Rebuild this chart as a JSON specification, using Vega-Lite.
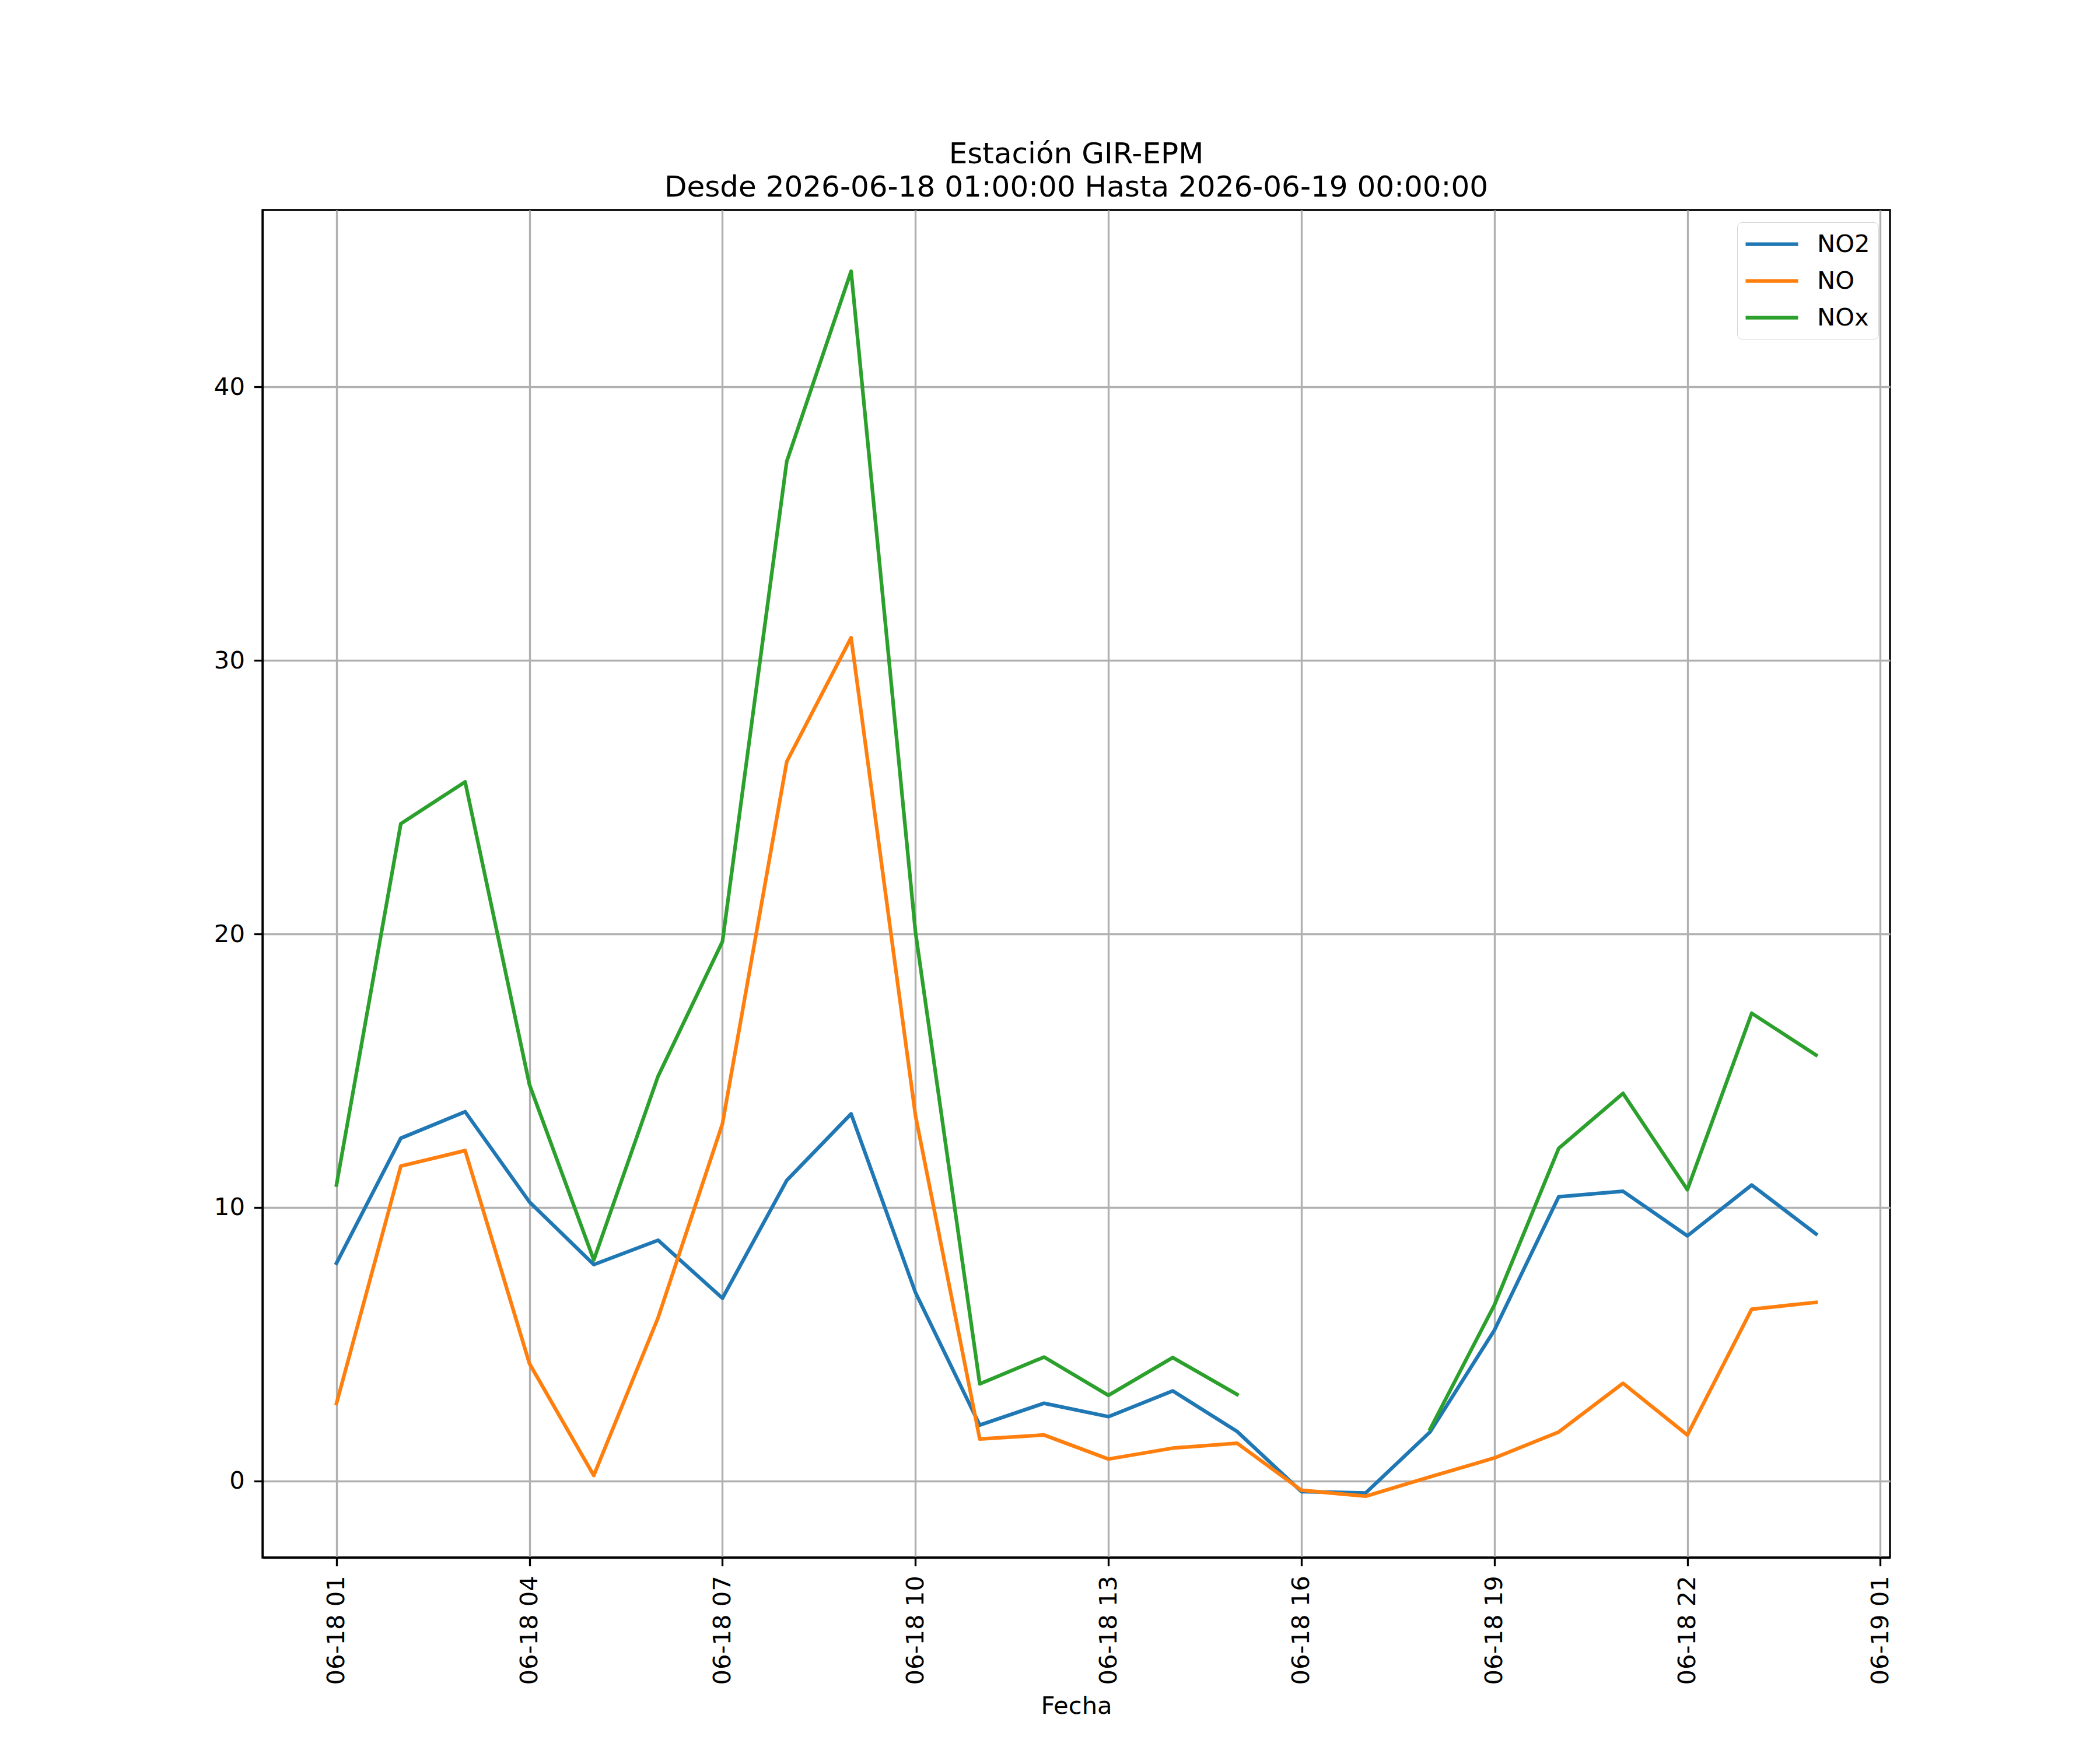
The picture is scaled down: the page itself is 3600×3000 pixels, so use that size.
{
  "$schema": "https://vega.github.io/schema/vega-lite/v6.json",
  "autosize": {"type": "none"},
  "padding": {"left": 450, "top": 360, "right": 360, "bottom": 330},
  "width": 2790,
  "height": 2310,
  "background": "white",
  "title": {
    "text": ["Estación GIR-EPM", "Desde 2026-06-18 01:00:00 Hasta 2026-06-19 00:00:00"],
    "font": "DejaVu Sans",
    "fontSize": 50,
    "fontWeight": "normal",
    "color": "black",
    "anchor": "middle",
    "lineHeight": 57,
    "baseline": "bottom",
    "offset": -37
  },
  "config": {
    "font": "DejaVu Sans",
    "view": {"stroke": "black", "strokeWidth": 3.33},
    "axis": {
      "domainColor": "black",
      "domainWidth": 3.33,
      "tickColor": "black",
      "tickWidth": 3.33,
      "tickSize": 14.6,
      "labelFont": "DejaVu Sans",
      "labelFontSize": 41.7,
      "labelColor": "black",
      "labelPadding": 16,
      "labelLimit": 0,
      "gridColor": "#b0b0b0",
      "gridWidth": 3.33,
      "gridOpacity": 1,
      "titleFont": "DejaVu Sans",
      "titleFontSize": 41.7,
      "titleFontWeight": "normal",
      "titleColor": "black"
    }
  },
  "data": {
    "values": [
      {"fecha": "2026-06-18T01:00:00Z", "contaminante": "NO2", "valor": 7.96},
      {"fecha": "2026-06-18T02:00:00Z", "contaminante": "NO2", "valor": 12.53},
      {"fecha": "2026-06-18T03:00:00Z", "contaminante": "NO2", "valor": 13.50},
      {"fecha": "2026-06-18T04:00:00Z", "contaminante": "NO2", "valor": 10.20},
      {"fecha": "2026-06-18T05:00:00Z", "contaminante": "NO2", "valor": 7.91},
      {"fecha": "2026-06-18T06:00:00Z", "contaminante": "NO2", "valor": 8.80},
      {"fecha": "2026-06-18T07:00:00Z", "contaminante": "NO2", "valor": 6.68},
      {"fecha": "2026-06-18T08:00:00Z", "contaminante": "NO2", "valor": 10.99},
      {"fecha": "2026-06-18T09:00:00Z", "contaminante": "NO2", "valor": 13.42},
      {"fecha": "2026-06-18T10:00:00Z", "contaminante": "NO2", "valor": 6.89},
      {"fecha": "2026-06-18T11:00:00Z", "contaminante": "NO2", "valor": 2.04},
      {"fecha": "2026-06-18T12:00:00Z", "contaminante": "NO2", "valor": 2.84},
      {"fecha": "2026-06-18T13:00:00Z", "contaminante": "NO2", "valor": 2.35},
      {"fecha": "2026-06-18T14:00:00Z", "contaminante": "NO2", "valor": 3.29},
      {"fecha": "2026-06-18T15:00:00Z", "contaminante": "NO2", "valor": 1.81},
      {"fecha": "2026-06-18T16:00:00Z", "contaminante": "NO2", "valor": -0.39},
      {"fecha": "2026-06-18T17:00:00Z", "contaminante": "NO2", "valor": -0.44},
      {"fecha": "2026-06-18T18:00:00Z", "contaminante": "NO2", "valor": 1.79},
      {"fecha": "2026-06-18T19:00:00Z", "contaminante": "NO2", "valor": 5.51},
      {"fecha": "2026-06-18T20:00:00Z", "contaminante": "NO2", "valor": 10.39},
      {"fecha": "2026-06-18T21:00:00Z", "contaminante": "NO2", "valor": 10.59},
      {"fecha": "2026-06-18T22:00:00Z", "contaminante": "NO2", "valor": 8.96},
      {"fecha": "2026-06-18T23:00:00Z", "contaminante": "NO2", "valor": 10.82},
      {"fecha": "2026-06-19T00:00:00Z", "contaminante": "NO2", "valor": 9.03},
      {"fecha": "2026-06-18T01:00:00Z", "contaminante": "NO", "valor": 2.83},
      {"fecha": "2026-06-18T02:00:00Z", "contaminante": "NO", "valor": 11.51},
      {"fecha": "2026-06-18T03:00:00Z", "contaminante": "NO", "valor": 12.08},
      {"fecha": "2026-06-18T04:00:00Z", "contaminante": "NO", "valor": 4.29},
      {"fecha": "2026-06-18T05:00:00Z", "contaminante": "NO", "valor": 0.20},
      {"fecha": "2026-06-18T06:00:00Z", "contaminante": "NO", "valor": 5.97},
      {"fecha": "2026-06-18T07:00:00Z", "contaminante": "NO", "valor": 13.06},
      {"fecha": "2026-06-18T08:00:00Z", "contaminante": "NO", "valor": 26.30},
      {"fecha": "2026-06-18T09:00:00Z", "contaminante": "NO", "valor": 30.83},
      {"fecha": "2026-06-18T10:00:00Z", "contaminante": "NO", "valor": 13.37},
      {"fecha": "2026-06-18T11:00:00Z", "contaminante": "NO", "valor": 1.53},
      {"fecha": "2026-06-18T12:00:00Z", "contaminante": "NO", "valor": 1.68},
      {"fecha": "2026-06-18T13:00:00Z", "contaminante": "NO", "valor": 0.80},
      {"fecha": "2026-06-18T14:00:00Z", "contaminante": "NO", "valor": 1.20},
      {"fecha": "2026-06-18T15:00:00Z", "contaminante": "NO", "valor": 1.38},
      {"fecha": "2026-06-18T16:00:00Z", "contaminante": "NO", "valor": -0.34},
      {"fecha": "2026-06-18T17:00:00Z", "contaminante": "NO", "valor": -0.56},
      {"fecha": "2026-06-18T18:00:00Z", "contaminante": "NO", "valor": 0.15},
      {"fecha": "2026-06-18T19:00:00Z", "contaminante": "NO", "valor": 0.84},
      {"fecha": "2026-06-18T20:00:00Z", "contaminante": "NO", "valor": 1.79},
      {"fecha": "2026-06-18T21:00:00Z", "contaminante": "NO", "valor": 3.57},
      {"fecha": "2026-06-18T22:00:00Z", "contaminante": "NO", "valor": 1.68},
      {"fecha": "2026-06-18T23:00:00Z", "contaminante": "NO", "valor": 6.28},
      {"fecha": "2026-06-19T00:00:00Z", "contaminante": "NO", "valor": 6.53},
      {"fecha": "2026-06-18T01:00:00Z", "contaminante": "NOx", "valor": 10.82},
      {"fecha": "2026-06-18T02:00:00Z", "contaminante": "NOx", "valor": 24.03},
      {"fecha": "2026-06-18T03:00:00Z", "contaminante": "NOx", "valor": 25.56},
      {"fecha": "2026-06-18T04:00:00Z", "contaminante": "NOx", "valor": 14.49},
      {"fecha": "2026-06-18T05:00:00Z", "contaminante": "NOx", "valor": 8.08},
      {"fecha": "2026-06-18T06:00:00Z", "contaminante": "NOx", "valor": 14.80},
      {"fecha": "2026-06-18T07:00:00Z", "contaminante": "NOx", "valor": 19.72},
      {"fecha": "2026-06-18T08:00:00Z", "contaminante": "NOx", "valor": 37.28},
      {"fecha": "2026-06-18T09:00:00Z", "contaminante": "NOx", "valor": 44.23},
      {"fecha": "2026-06-18T10:00:00Z", "contaminante": "NOx", "valor": 20.08},
      {"fecha": "2026-06-18T11:00:00Z", "contaminante": "NOx", "valor": 3.55},
      {"fecha": "2026-06-18T12:00:00Z", "contaminante": "NOx", "valor": 4.53},
      {"fecha": "2026-06-18T13:00:00Z", "contaminante": "NOx", "valor": 3.13},
      {"fecha": "2026-06-18T14:00:00Z", "contaminante": "NOx", "valor": 4.51},
      {"fecha": "2026-06-18T15:00:00Z", "contaminante": "NOx", "valor": 3.16},
      {"fecha": "2026-06-18T16:00:00Z", "contaminante": "NOx", "valor": null},
      {"fecha": "2026-06-18T17:00:00Z", "contaminante": "NOx", "valor": null},
      {"fecha": "2026-06-18T18:00:00Z", "contaminante": "NOx", "valor": 1.89},
      {"fecha": "2026-06-18T19:00:00Z", "contaminante": "NOx", "valor": 6.43},
      {"fecha": "2026-06-18T20:00:00Z", "contaminante": "NOx", "valor": 12.16},
      {"fecha": "2026-06-18T21:00:00Z", "contaminante": "NOx", "valor": 14.17},
      {"fecha": "2026-06-18T22:00:00Z", "contaminante": "NOx", "valor": 10.65},
      {"fecha": "2026-06-18T23:00:00Z", "contaminante": "NOx", "valor": 17.10},
      {"fecha": "2026-06-19T00:00:00Z", "contaminante": "NOx", "valor": 15.57}
    ]
  },
  "mark": {
    "type": "line",
    "strokeWidth": 6.25,
    "strokeCap": "square",
    "strokeJoin": "round",
    "invalid": "break-paths-filter-domains"
  },
  "encoding": {
    "x": {
      "field": "fecha",
      "type": "temporal",
      "title": "Fecha",
      "scale": {
        "type": "utc",
        "domain": [
          {"year": 2026, "month": 6, "date": 17, "hours": 23, "minutes": 51, "utc": true},
          {"year": 2026, "month": 6, "date": 19, "hours": 1, "minutes": 9, "utc": true}
        ]
      },
      "axis": {
        "values": [
          {"year": 2026, "month": 6, "date": 18, "hours": 1, "utc": true},
          {"year": 2026, "month": 6, "date": 18, "hours": 4, "utc": true},
          {"year": 2026, "month": 6, "date": 18, "hours": 7, "utc": true},
          {"year": 2026, "month": 6, "date": 18, "hours": 10, "utc": true},
          {"year": 2026, "month": 6, "date": 18, "hours": 13, "utc": true},
          {"year": 2026, "month": 6, "date": 18, "hours": 16, "utc": true},
          {"year": 2026, "month": 6, "date": 18, "hours": 19, "utc": true},
          {"year": 2026, "month": 6, "date": 18, "hours": 22, "utc": true},
          {"year": 2026, "month": 6, "date": 19, "hours": 1, "utc": true}
        ],
        "format": "%m-%d %H",
        "labelAngle": 270,
        "labelAlign": "right",
        "labelBaseline": "middle",
        "labelFlush": false,
        "labelOverlap": false,
        "titlePadding": 34
      }
    },
    "y": {
      "field": "valor",
      "type": "quantitative",
      "title": null,
      "scale": {"domain": [-2.80, 46.47], "zero": false, "nice": false},
      "axis": {"values": [0, 10, 20, 30, 40]}
    },
    "color": {
      "field": "contaminante",
      "type": "nominal",
      "scale": {"domain": ["NO2", "NO", "NOx"], "range": ["#1f77b4", "#ff7f0e", "#2ca02c"]},
      "legend": {
        "title": null,
        "orient": "none",
        "legendX": 2528,
        "legendY": 21,
        "symbolType": "M-2.25,0H2.25",
        "symbolStrokeWidth": 6.25,
        "symbolSize": 1600,
        "symbolOffset": 22,
        "labelFont": "DejaVu Sans",
        "labelFontSize": 41.7,
        "labelColor": "black",
        "labelOffset": 54,
        "padding": 14,
        "rowPadding": 17,
        "fillColor": "white",
        "strokeColor": "#d6d6d6",
        "cornerRadius": 8
      }
    }
  }
}
